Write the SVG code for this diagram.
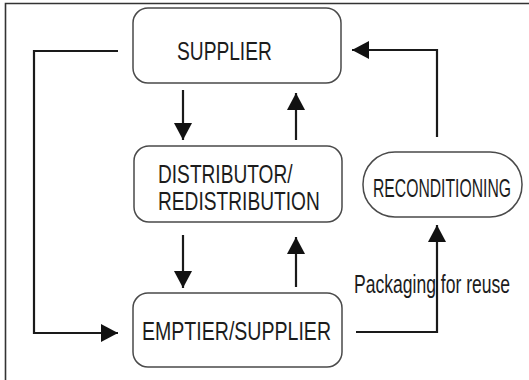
<svg xmlns="http://www.w3.org/2000/svg" width="529" height="380" viewBox="0 0 529 380">
  <style>
    .box { fill: #ffffff; stroke: #4a4a4a; stroke-width: 1.5; }
    .lbl { font-family: "Liberation Sans", Arial, sans-serif; font-size: 26px; fill: #1c1c1c; }
    .link { fill: none; stroke: #1a1a1a; stroke-width: 2.2; }
    .frame { fill: none; stroke: #333333; stroke-width: 1.6; }
  </style>
  <defs>
    <marker id="head" markerUnits="userSpaceOnUse" markerWidth="18" markerHeight="18" refX="17" refY="9" orient="auto">
      <path d="M0,0 L17,9 L0,18 z" fill="#111111"/>
    </marker>
  </defs>

  <rect width="529" height="380" fill="#ffffff"/>

  <!-- frame: top and left edges only -->
  <path class="frame" d="M5.5,380 V3.5 H529"/>

  <!-- labels use a narrowed Liberation Sans (horizontal scale) -->
  <g id="supplier">
    <rect class="box" x="133" y="8" width="208" height="75" rx="15"/>
    <text class="lbl" transform="translate(177,60) scale(0.738,1)">SUPPLIER</text>
  </g>

  <g id="distributor">
    <rect class="box" x="134" y="146" width="208" height="76" rx="15"/>
    <text class="lbl" transform="translate(158,183) scale(0.736,1)">DISTRIBUTOR/</text>
    <text class="lbl" transform="translate(158,210) scale(0.737,1)">REDISTRIBUTION</text>
  </g>

  <g id="emptier">
    <rect class="box" x="133" y="293" width="209" height="74" rx="15"/>
    <text class="lbl" transform="translate(142,340) scale(0.752,1)">EMPTIER/SUPPLIER</text>
  </g>

  <g id="reconditioning">
    <rect class="box" x="363" y="152" width="159" height="65" rx="32" stroke="#222222" stroke-width="1.8"/>
    <text class="lbl" transform="translate(373,197) scale(0.605,1)">RECONDITIONING</text>
  </g>

  <g id="connectors">
    <path class="link" d="M183,90 V140" marker-end="url(#head)"/>
    <path class="link" d="M296,140 V93" marker-end="url(#head)"/>
    <path class="link" d="M183,235 V288" marker-end="url(#head)"/>
    <path class="link" d="M296,287 V237" marker-end="url(#head)"/>
    <path class="link" d="M118,51 H34 V333 H118" marker-end="url(#head)"/>
    <path class="link" d="M356,332 H437 V225" marker-end="url(#head)"/>
    <path class="link" d="M437,137 V50 H352" marker-end="url(#head)"/>
    <text class="lbl" transform="translate(354,293) scale(0.675,1)">Packaging for reuse</text>
  </g>
</svg>
